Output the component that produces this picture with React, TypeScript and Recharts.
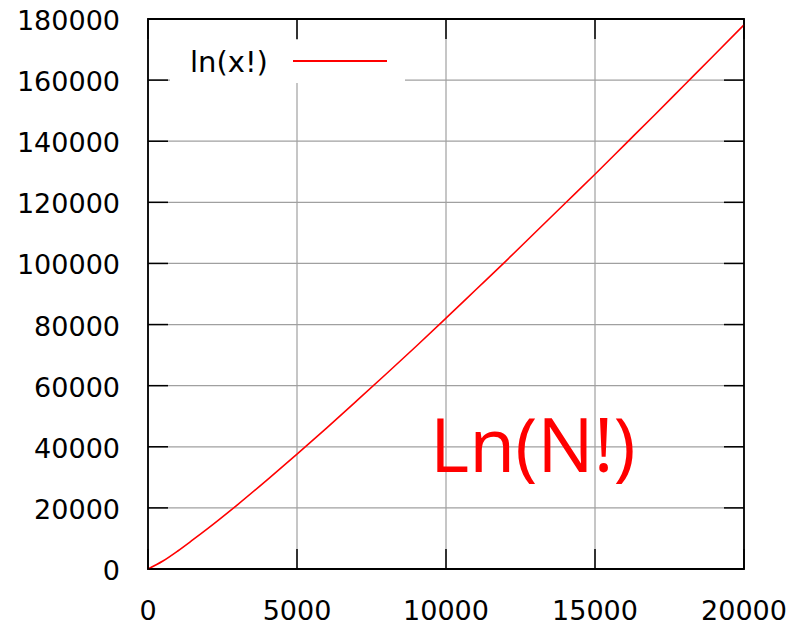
import {
  Legend,
  Line,
  LineChart,
  CartesianGrid,
  ReferenceArea,
  XAxis,
  YAxis,
} from 'recharts';

// values
const xValues = [
  0, 500, 1000, 1500, 2000, 3000, 4000, 5000, 6000, 7000, 8000, 9000, 10000, 11000, 12000, 13000,
  14000, 15000, 16000, 17000, 18000, 19000, 20000,
];
const lnFactorial = [
  0, 2600, 5900, 9500, 13200, 21000, 29200, 37600, 46200, 55000, 63900, 72900, 82100, 91400,
  100700, 110200, 119700, 129200, 138900, 148600, 158400, 168200, 178100,
];
const xTicks = [0, 5000, 10000, 15000, 20000];
const yTicks = [0, 20000, 40000, 60000, 80000, 100000, 120000, 140000, 160000, 180000];
const seriesName = 'ln(x!)';
const bigLabel = 'Ln(N!)';

const data = xValues.map((x, i) => ({ x, value: lnFactorial[i] }));

const FONT = '"DejaVu Sans", sans-serif';
const PLOT = { left: 148, right: 744, top: 19, bottom: 569 };
const TICK_LEN = 20;

function YTick({ y, payload }: any) {
  return (
    <g>
      <line x1={PLOT.left} x2={PLOT.left + TICK_LEN} y1={y} y2={y} stroke="#000" strokeWidth={1.5} />
      <line x1={PLOT.right - TICK_LEN} x2={PLOT.right} y1={y} y2={y} stroke="#000" strokeWidth={1.5} />
      <text x={120} y={y + 11} textAnchor="end" fontFamily={FONT} fontSize={27} fill="#000">
        {payload.value}
      </text>
    </g>
  );
}

function XTick({ x, payload }: any) {
  return (
    <g>
      <line x1={x} x2={x} y1={PLOT.bottom} y2={PLOT.bottom - TICK_LEN} stroke="#000" strokeWidth={1.5} />
      <line x1={x} x2={x} y1={PLOT.top} y2={PLOT.top + TICK_LEN} stroke="#000" strokeWidth={1.5} />
      <text x={x} y={620} textAnchor="middle" fontFamily={FONT} fontSize={27} fill="#000">
        {payload.value}
      </text>
    </g>
  );
}

function LegendBox() {
  return (
    <div style={{ position: 'relative', width: 235, height: 43, background: '#fff' }}>
      <span
        style={{
          position: 'absolute',
          left: 20,
          top: 6,
          fontFamily: FONT,
          fontSize: 29,
          lineHeight: '32px',
          color: '#000',
          whiteSpace: 'nowrap',
        }}
      >
        {seriesName}
      </span>
      <div
        style={{
          position: 'absolute',
          left: 123,
          top: 20,
          width: 94,
          height: 2,
          background: '#ff0000',
        }}
      />
    </div>
  );
}

export default function App() {
  return (
    <div style={{ position: 'absolute', left: 0, top: 0, width: 790, height: 626, background: '#fff' }}>
      <LineChart
        width={790}
        height={626}
        data={data}
        margin={{ top: PLOT.top, right: 790 - PLOT.right, bottom: 0, left: 0 }}
      >
        <CartesianGrid stroke="#a0a0a0" strokeWidth={1.2} />
        <XAxis
          dataKey="x"
          type="number"
          domain={[0, 20000]}
          ticks={xTicks}
          height={626 - PLOT.bottom}
          tick={<XTick />}
          tickLine={false}
          axisLine={false}
          interval={0}
        />
        <YAxis
          type="number"
          domain={[0, 180000]}
          ticks={yTicks}
          width={PLOT.left}
          tick={<YTick />}
          tickLine={false}
          axisLine={false}
          interval={0}
        />
        <ReferenceArea
          x1={0}
          x2={20000}
          y1={0}
          y2={180000}
          fill="none"
          stroke="#000"
          strokeWidth={1.8}
          fillOpacity={0}
        />
        <Legend
          layout="vertical"
          align="center"
          verticalAlign="middle"
          content={<LegendBox />}
          wrapperStyle={{ left: 170, top: 40, width: 235, height: 43, right: 'auto', bottom: 'auto' }}
        />
        <Line
          type="monotone"
          dataKey="value"
          name={seriesName}
          stroke="#ff0000"
          strokeWidth={1.6}
          dot={false}
          isAnimationActive={false}
        />
      </LineChart>
      <div
        style={{
          position: 'absolute',
          left: 430,
          top: 393,
          fontFamily: '"Open Sans", sans-serif',
          fontSize: 75,
          lineHeight: '100px',
          color: '#ff0000',
          whiteSpace: 'nowrap',
        }}
      >
        {bigLabel}
      </div>
    </div>
  );
}
